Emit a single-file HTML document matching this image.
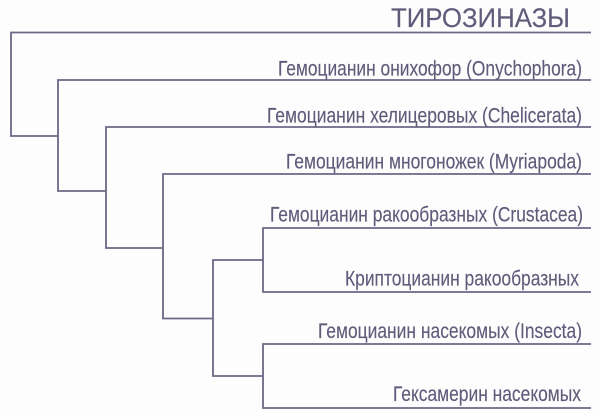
<!DOCTYPE html>
<html>
<head>
<meta charset="utf-8">
<style>
html,body{margin:0;padding:0;background:#fdfdfe;}
svg{display:block;}
text{font-family:"Liberation Sans","Noto Sans CJK SC",sans-serif;fill:#5f5c7a;stroke:#5f5c7a;stroke-width:.15;}
</style>
</head>
<body>
<svg width="600" height="417" viewBox="0 0 600 417" xmlns="http://www.w3.org/2000/svg">
<rect width="600" height="417" fill="#fdfdfe"/>
<g fill="none" stroke="#6b6886" stroke-width="1.8">
<path d="M591 32.5H11V136H58"/>
<path d="M591 80H58V191H106"/>
<path d="M591 127H106V248H163"/>
<path d="M591 174H163V318.5H213"/>
<path d="M591 228H263V292H591"/>
<path d="M263 260H213V376H263"/>
<path d="M591 344H263V408H591"/>
</g>
<text x="391" y="27" font-size="27" textLength="179" lengthAdjust="spacingAndGlyphs">ТИРОЗИНАЗЫ</text>
<g font-size="21.5">
<text x="278" y="75.5" textLength="304" lengthAdjust="spacingAndGlyphs">Гемоцианин онихофор (Onychophora)</text>
<text x="267" y="122.5" textLength="315" lengthAdjust="spacingAndGlyphs">Гемоцианин хелицеровых (Chelicerata)</text>
<text x="286" y="168.5" textLength="296" lengthAdjust="spacingAndGlyphs">Гемоцианин многоножек (Myriapoda)</text>
<text x="270" y="221.5" textLength="313" lengthAdjust="spacingAndGlyphs">Гемоцианин ракообразных (Crustacea)</text>
<text x="345" y="285.5" textLength="234" lengthAdjust="spacingAndGlyphs">Криптоцианин ракообразных</text>
<text x="318" y="338" textLength="264" lengthAdjust="spacingAndGlyphs">Гемоцианин насекомых (Insecta)</text>
<text x="393" y="401" textLength="188" lengthAdjust="spacingAndGlyphs">Гексамерин насекомых</text>
</g>
</svg>
</body>
</html>
